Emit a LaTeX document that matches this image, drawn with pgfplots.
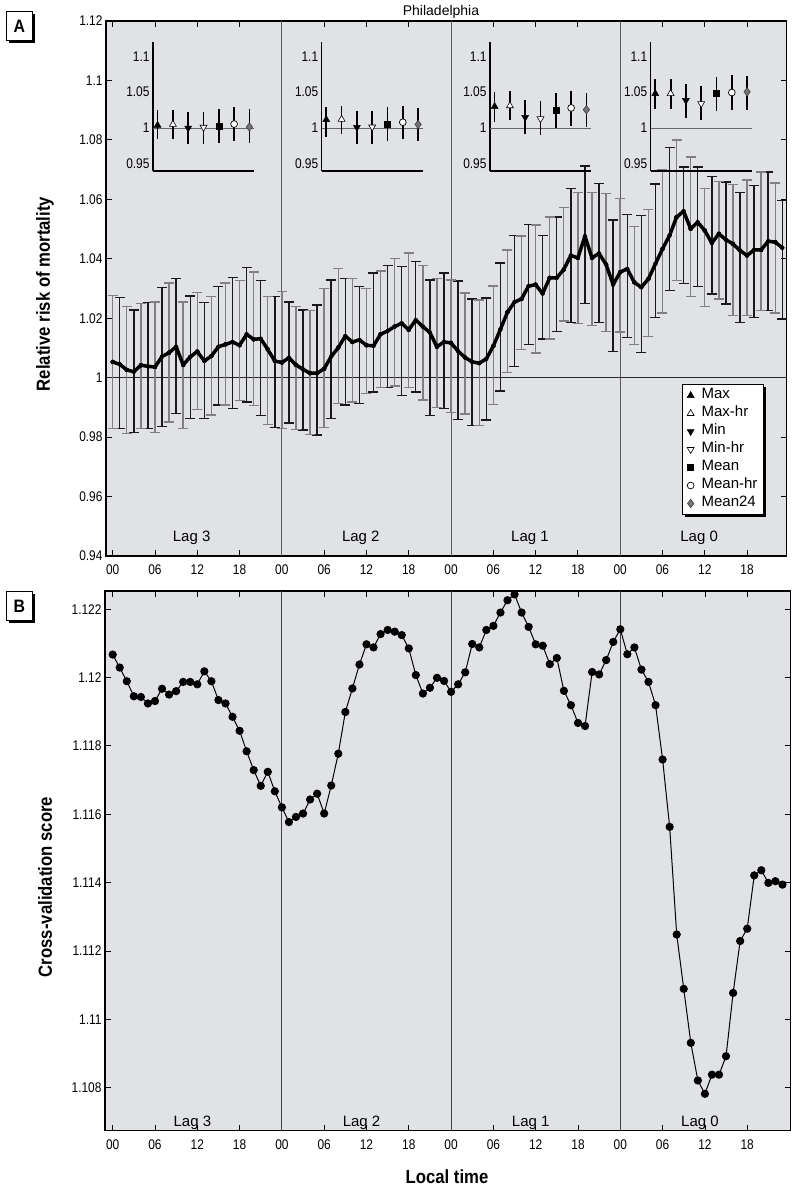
\documentclass[border=0pt]{standalone}
\usepackage{fontspec}
\setmainfont{Liberation Sans}
\newfontfamily\ticksfont[FakeStretch=0.85]{Liberation Sans}
\newfontfamily\labfont[FakeStretch=0.88]{Liberation Sans}
\usepackage{pgfplots}
\usepackage{pgfplotstable}
\pgfplotsset{compat=1.18}
\usetikzlibrary{shadows}
\definecolor{bgc}{RGB}{225,226,229}

\pgfplotstableread{
h y up lo
0 1.0053 1.0277 0.9828
1 1.0045 1.0270 0.9828
2 1.0026 1.0239 0.9812
3 1.0020 1.0228 0.9815
4 1.0042 1.0249 0.9829
5 1.0038 1.0253 0.9828
6 1.0036 1.0255 0.9815
7 1.0071 1.0303 0.9835
8 1.0084 1.0318 0.9851
9 1.0104 1.0334 0.9880
10 1.0043 1.0255 0.9828
11 1.0070 1.0275 0.9863
12 1.0088 1.0286 0.9893
13 1.0056 1.0253 0.9862
14 1.0073 1.0273 0.9874
15 1.0104 1.0307 0.9908
16 1.0112 1.0318 0.9908
17 1.0120 1.0337 0.9896
18 1.0109 1.0326 0.9924
19 1.0146 1.0371 0.9918
20 1.0129 1.0356 0.9907
21 1.0131 1.0326 0.9873
22 1.0095 1.0273 0.9843
23 1.0056 1.0273 0.9832
24 1.0051 1.0289 0.9829
25 1.0067 1.0255 0.9848
26 1.0043 1.0239 0.9826
27 1.0028 1.0228 0.9824
28 1.0015 1.0227 0.9809
29 1.0015 1.0245 0.9807
30 1.0030 1.0301 0.9832
31 1.0071 1.0329 0.9862
32 1.0101 1.0368 0.9914
33 1.0140 1.0334 0.9908
34 1.0120 1.0334 0.9918
35 1.0127 1.0307 0.9914
36 1.0109 1.0301 0.9947
37 1.0107 1.0352 0.9952
38 1.0146 1.0359 0.9966
39 1.0157 1.0378 0.9966
40 1.0172 1.0401 0.9972
41 1.0183 1.0374 0.9940
42 1.0161 1.0419 0.9966
43 1.0194 1.0390 0.9952
44 1.0172 1.0378 0.9925
45 1.0152 1.0329 0.9873
46 1.0104 1.0334 0.9899
47 1.0120 1.0352 0.9896
48 1.0117 1.0328 0.9883
49 1.0089 1.0325 0.9860
50 1.0068 1.0285 0.9878
51 1.0053 1.0265 0.9839
52 1.0049 1.0261 0.9839
53 1.0063 1.0268 0.9858
54 1.0106 1.0308 0.9910
55 1.0162 1.0386 0.9955
56 1.0220 1.0429 1.0018
57 1.0254 1.0478 1.0038
58 1.0265 1.0476 1.0094
59 1.0308 1.0515 1.0111
60 1.0313 1.0513 1.0083
61 1.0283 1.0479 1.0130
62 1.0336 1.0541 1.0130
63 1.0336 1.0540 1.0156
64 1.0364 1.0572 1.0190
65 1.0411 1.0636 1.0186
66 1.0403 1.0622 1.0182
67 1.0476 1.0712 1.0249
68 1.0403 1.0622 1.0175
69 1.0418 1.0654 1.0186
70 1.0381 1.0620 1.0156
71 1.0313 1.0530 1.0089
72 1.0355 1.0602 1.0153
73 1.0366 1.0549 1.0136
74 1.0321 1.0509 1.0111
75 1.0304 1.0546 1.0085
76 1.0332 1.0565 1.0138
77 1.0383 1.0652 1.0203
78 1.0433 1.0700 1.0217
79 1.0478 1.0774 1.0293
80 1.0540 1.0799 1.0327
81 1.0560 1.0709 1.0316
82 1.0501 1.0743 1.0273
83 1.0523 1.0709 1.0307
84 1.0495 1.0636 1.0239
85 1.0453 1.0677 1.0282
86 1.0484 1.0661 1.0265
87 1.0464 1.0658 1.0248
88 1.0450 1.0650 1.0209
89 1.0428 1.0624 1.0186
90 1.0411 1.0665 1.0209
91 1.0430 1.0647 1.0203
92 1.0430 1.0692 1.0226
93 1.0459 1.0692 1.0226
94 1.0456 1.0655 1.0217
95 1.0437 1.0596 1.0198
}\riskdata

\pgfplotstableread{
h y
0 1.12067
1 1.12029
2 1.11989
3 1.11945
4 1.11943
5 1.11924
6 1.11931
7 1.11967
8 1.11950
9 1.11960
10 1.11987
11 1.11987
12 1.11980
13 1.12018
14 1.11989
15 1.11934
16 1.11924
17 1.11885
18 1.11844
19 1.11784
20 1.11729
21 1.11683
22 1.11724
23 1.11667
24 1.11620
25 1.11577
26 1.11592
27 1.11602
28 1.11643
29 1.11660
30 1.11602
31 1.11684
32 1.11777
33 1.11899
34 1.11968
35 1.12038
36 1.12097
37 1.12088
38 1.12127
39 1.12139
40 1.12134
41 1.12124
42 1.12085
43 1.12007
44 1.11953
45 1.11970
46 1.11999
47 1.11990
48 1.11958
49 1.11980
50 1.12015
51 1.12098
52 1.12088
53 1.12139
54 1.12151
55 1.12190
56 1.12226
57 1.12243
58 1.12190
59 1.12148
60 1.12097
61 1.12093
62 1.12039
63 1.12057
64 1.11961
65 1.11919
66 1.11867
67 1.11858
68 1.12016
69 1.12009
70 1.12051
71 1.12104
72 1.12141
73 1.12068
74 1.12088
75 1.12023
76 1.11987
77 1.11919
78 1.11760
79 1.11563
80 1.11248
81 1.11089
82 1.10931
83 1.10821
84 1.10782
85 1.10838
86 1.10838
87 1.10892
88 1.11077
89 1.11229
90 1.11265
91 1.11421
92 1.11436
93 1.11399
94 1.11404
95 1.11394
}\cvdata

\pgfplotsset{
  tfont/.style={font=\ticksfont\fontsize{14}{14}\selectfont},
  s1/.style={mark=triangle*, mark size=4pt, mark options={fill=black, draw=black, line width=0.5pt, rotate=0}},
  s2/.style={mark=triangle*, mark size=4pt, mark options={fill=white, draw=black, line width=0.6pt, rotate=0}},
  s3/.style={mark=triangle*, mark size=4pt, mark options={fill=black, draw=black, line width=0.5pt, rotate=180}},
  s4/.style={mark=triangle*, mark size=4pt, mark options={fill=white, draw=black, line width=0.6pt, rotate=180}},
  s5/.style={mark=square*, mark size=3pt, mark options={fill=black, draw=black}},
  s6/.style={mark=*, mark size=3.4pt, mark options={fill=white, draw=black, line width=0.7pt}},
  s7/.style={mark=diamond*, mark size=4.2pt, mark options={fill=black!55, draw=black!75, line width=0.6pt}},
  inset/.style={scale only axis, width=101pt, height=129pt, anchor=south west,
    xmin=0.7, xmax=7.3, ymin=0.94, ymax=1.12,
    axis lines=left, axis line style={-, line width=1.2pt},
    xtick=\empty, ytick={0.95,1,1.05,1.1}, yticklabels={0.95,1,1.05,1.1},
    major tick length=0pt, yticklabel style={tfont}, clip=false},
  ebar/.style={only marks, mark=none, forget plot, error bars/.cd, y dir=both, y explicit,
    error mark=none, error bar style={#1, line width=1.4pt}},
  ecap/.style={only marks, forget plot, mark=-, mark size=5pt, mark options={#1, line width=1.4pt}},
  evenonly/.style={x filter/.expression={mod(\coordindex,2)==0 ? x : nan}},
}
\newcommand{\ipt}[5]{\addplot[black, only marks, #1, error bars/.cd, y dir=both, y explicit,
  error mark=none, error bar style={line width=1.8pt, black}] coordinates {(#2,#3) += (0,#4) -= (0,#5)};}

\begin{document}
\begin{tikzpicture}
\path[use as bounding box] (0pt,0pt) rectangle (800pt,-1188pt);

% ---------------- Panel A ----------------
\begin{axis}[
  at={(106pt,-556pt)}, anchor=south west,
  scale only axis, width=680.5pt, height=535pt,
  xmin=-0.95, xmax=95.6, ymin=0.94, ymax=1.12,
  axis background/.style={fill=bgc},
  axis line style={line width=1.2pt},
  tick align=inside, major tick length=6pt,
  tick style={black, line width=0.8pt},
  xtick={0,6,...,90},
  xticklabels={00,06,12,18,00,06,12,18,00,06,12,18,00,06,12,18},
  ytick={0.94,0.96,0.98,1,1.02,1.04,1.06,1.08,1.1,1.12},
  yticklabel style={/pgf/number format/fixed, /pgf/number format/precision=3,
    /pgf/number format/assume math mode=true, tfont},
  xticklabel style={tfont, yshift=-5.5pt},
  legend style={at={(0.846,0.3215)}, anchor=north west, draw=black, line width=1pt,
    fill=white, drop shadow={shadow xshift=2.5pt, shadow yshift=-2.5pt, fill=black, opacity=1},
    font=\fontsize{15}{15}\selectfont, inner xsep=5pt, inner ysep=2pt,
    nodes={inner sep=1.5pt, text height=10.5pt, text depth=4.5pt},
    /tikz/every odd column/.append style={column sep=6pt}},
  legend cell align=left,
]
\draw[black!65, line width=1pt] (axis cs:24,0.94) -- (axis cs:24,1.12);
\draw[black!65, line width=1pt] (axis cs:48,0.94) -- (axis cs:48,1.12);
\draw[black!65, line width=1pt] (axis cs:72,0.94) -- (axis cs:72,1.12);
\draw[black!85, line width=0.9pt] (axis cs:-1,1) -- (axis cs:96,1);

\addplot[ebar=black!90]
  table[x=h, y=y, y error plus expr=\thisrow{up}-\thisrow{y}, y error minus expr=\thisrow{y}-\thisrow{lo}] {\riskdata};
\addplot[ecap=black!90] table[x=h, y=up] {\riskdata};
\addplot[ecap=black!90] table[x=h, y=lo] {\riskdata};
\addplot[evenonly, ebar=black!50]
  table[x=h, y=y, y error plus expr=\thisrow{up}-\thisrow{y}, y error minus expr=\thisrow{y}-\thisrow{lo}] {\riskdata};
\addplot[evenonly, ecap=black!50] table[x=h, y=up] {\riskdata};
\addplot[evenonly, ecap=black!50] table[x=h, y=lo] {\riskdata};
\addplot[black, line width=3.5pt, mark=none, forget plot, line join=round] table[x=h, y=y] {\riskdata};

\node[anchor=base, font=\fontsize{15}{15}\selectfont] at (axis cs:11.2,0.94476) {Lag 3};
\node[anchor=base, font=\fontsize{15}{15}\selectfont] at (axis cs:35.2,0.94476) {Lag 2};
\node[anchor=base, font=\fontsize{15}{15}\selectfont] at (axis cs:59.2,0.94476) {Lag 1};
\node[anchor=base, font=\fontsize{15}{15}\selectfont] at (axis cs:83.2,0.94476) {Lag 0};

\addlegendimage{only marks, s1}\addlegendentry{Max}
\addlegendimage{only marks, s2}\addlegendentry{Max-hr}
\addlegendimage{only marks, s3}\addlegendentry{Min}
\addlegendimage{only marks, s4}\addlegendentry{Min-hr}
\addlegendimage{only marks, s5}\addlegendentry{Mean}
\addlegendimage{only marks, s6}\addlegendentry{Mean-hr}
\addlegendimage{only marks, s7}\addlegendentry{Mean24}
\end{axis}

% ---------------- Insets ----------------
\begin{axis}[inset, at={(153pt,-171pt)}]
\draw[black!60, line width=1pt] (axis cs:0.7,1) -- (axis cs:7.3,1);
\ipt{s1}{1}{1.0037}{0.0208}{0.0187}
\ipt{s2}{2}{1.0050}{0.0195}{0.0200}
\ipt{s3}{3}{1.0000}{0.0220}{0.0230}
\ipt{s4}{4}{1.0010}{0.0220}{0.0240}
\ipt{s5}{5}{1.0030}{0.0230}{0.0240}
\ipt{s6}{6}{1.0055}{0.0235}{0.0235}
\ipt{s7}{7}{1.0014}{0.0251}{0.0224}
\end{axis}
\begin{axis}[inset, at={(321.7pt,-171pt)}]
\draw[black!60, line width=1pt] (axis cs:0.7,1) -- (axis cs:7.3,1);
\ipt{s1}{1}{1.0116}{0.0184}{0.0236}
\ipt{s2}{2}{1.0120}{0.0190}{0.0210}
\ipt{s3}{3}{1.0010}{0.0226}{0.0240}
\ipt{s4}{4}{1.0014}{0.0226}{0.0244}
\ipt{s5}{5}{1.0060}{0.0230}{0.0240}
\ipt{s6}{6}{1.0080}{0.0230}{0.0230}
\ipt{s7}{7}{1.0050}{0.0230}{0.0230}
\end{axis}
\begin{axis}[inset, at={(490pt,-171pt)}]
\draw[black!60, line width=1pt] (axis cs:0.7,1) -- (axis cs:7.3,1);
\ipt{s1}{1}{1.0300}{0.0200}{0.0210}
\ipt{s2}{2}{1.0310}{0.0200}{0.0200}
\ipt{s3}{3}{1.0150}{0.0240}{0.0230}
\ipt{s4}{4}{1.0130}{0.0240}{0.0230}
\ipt{s5}{5}{1.0255}{0.0231}{0.0255}
\ipt{s6}{6}{1.0280}{0.0240}{0.0250}
\ipt{s7}{7}{1.0255}{0.0235}{0.0235}
\end{axis}
\begin{axis}[inset, at={(650.7pt,-171pt)}]
\draw[black!60, line width=1pt] (axis cs:0.7,1) -- (axis cs:7.3,1);
\ipt{s1}{1}{1.0480}{0.0205}{0.0210}
\ipt{s2}{2}{1.0480}{0.0200}{0.0210}
\ipt{s3}{3}{1.0385}{0.0231}{0.0245}
\ipt{s4}{4}{1.0340}{0.0240}{0.0230}
\ipt{s5}{5}{1.0480}{0.0237}{0.0244}
\ipt{s6}{6}{1.0495}{0.0250}{0.0240}
\ipt{s7}{7}{1.0505}{0.0225}{0.0255}
\end{axis}

% ---------------- Panel B ----------------
\begin{axis}[
  at={(105pt,-1130.7pt)}, anchor=south west,
  scale only axis, width=685.7pt, height=539.7pt,
  xmin=-1.09, xmax=96.17, ymin=1.10674, ymax=1.12253,
  axis background/.style={fill=bgc},
  axis line style={line width=1.2pt},
  tick align=inside, major tick length=6pt,
  tick style={black, line width=0.8pt},
  xtick={0,6,...,90},
  xticklabels={00,06,12,18,00,06,12,18,00,06,12,18,00,06,12,18},
  ytick={1.108,1.110,1.112,1.114,1.116,1.118,1.120,1.122},
  yticklabel style={/pgf/number format/fixed, /pgf/number format/precision=3,
    /pgf/number format/assume math mode=true, tfont},
  xticklabel style={tfont, yshift=-5.5pt},
]
\draw[black!75, line width=1pt] (axis cs:24,1.10674) -- (axis cs:24,1.12253);
\draw[black!75, line width=1pt] (axis cs:48,1.10674) -- (axis cs:48,1.12253);
\draw[black!75, line width=1pt] (axis cs:72,1.10674) -- (axis cs:72,1.12253);
\addplot[black, line width=1pt, mark=*, mark size=3.6pt, mark options={fill=black}] table[x=h, y=y] {\cvdata};
\node[anchor=base, font=\fontsize{15}{15}\selectfont] at (axis cs:11.3,1.10686) {Lag 3};
\node[anchor=base, font=\fontsize{15}{15}\selectfont] at (axis cs:35.3,1.10686) {Lag 2};
\node[anchor=base, font=\fontsize{15}{15}\selectfont] at (axis cs:59.3,1.10686) {Lag 1};
\node[anchor=base, font=\fontsize{15}{15}\selectfont] at (axis cs:83.3,1.10686) {Lag 0};
\end{axis}

% ---------------- Labels ----------------
\node[anchor=base, font=\fontsize{14}{14}\selectfont] at (441pt,-16pt) {Philadelphia};
\node[rotate=90, font=\labfont\bfseries\fontsize{19}{19}\selectfont] at (45pt,-294pt) {Relative risk of mortality};
\node[rotate=90, font=\labfont\bfseries\fontsize{19}{19}\selectfont] at (45pt,-887pt) {Cross-validation score};
\node[font=\labfont\bfseries\fontsize{19}{19}\selectfont] at (447pt,-1177pt) {Local time};
\node[draw=black, line width=1pt, fill=white, minimum width=26.7pt, minimum height=29pt, inner sep=0pt,
  drop shadow={shadow xshift=2.5pt, shadow yshift=-2.5pt, fill=black, opacity=1},
  font=\labfont\bfseries\fontsize{18}{18}\selectfont] at (19.4pt,-26.2pt) {A};
\node[draw=black, line width=1pt, fill=white, minimum width=26.7pt, minimum height=29pt, inner sep=0pt,
  drop shadow={shadow xshift=2.5pt, shadow yshift=-2.5pt, fill=black, opacity=1},
  font=\labfont\bfseries\fontsize{18}{18}\selectfont] at (19.4pt,-606pt) {B};
\end{tikzpicture}
\end{document}
